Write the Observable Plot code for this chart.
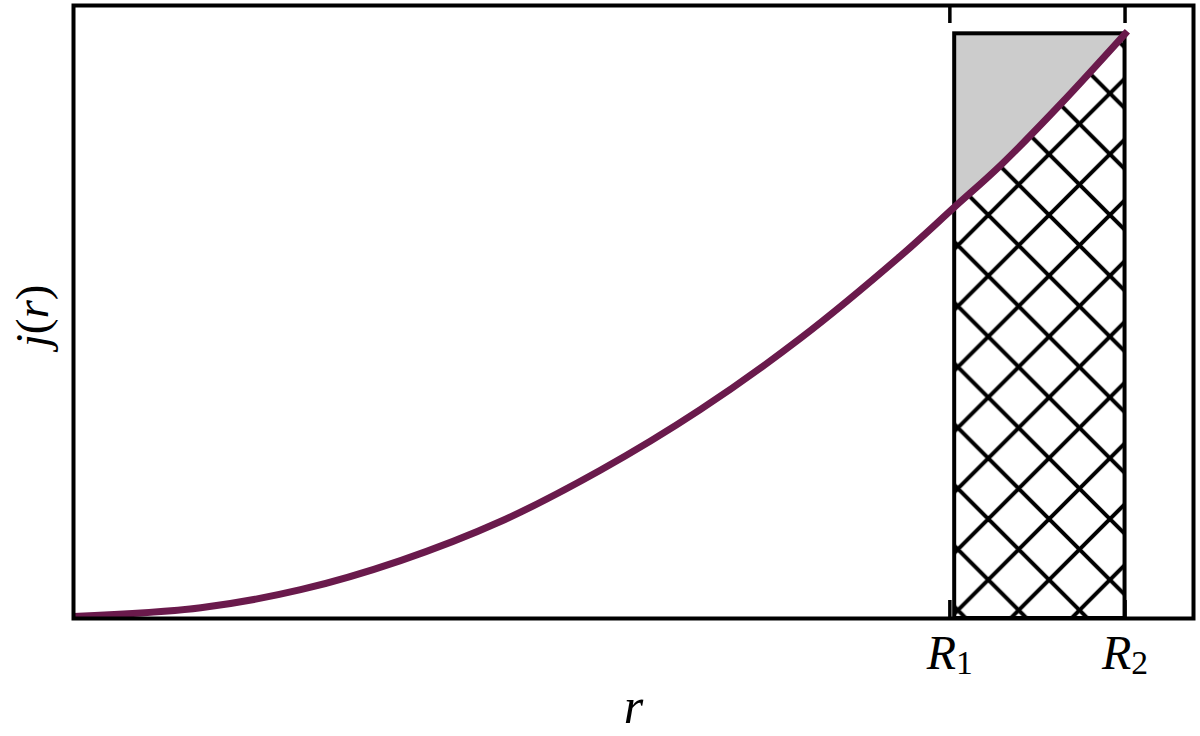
<!DOCTYPE html>
<html><head><meta charset="utf-8">
<script src="https://cdn.jsdelivr.net/npm/d3@7"></script>
<script src="https://cdn.jsdelivr.net/npm/@observablehq/plot@0.6"></script>
<style>html,body{margin:0;padding:0;background:#fff;} #chart svg{display:block;}</style>
</head><body><div id="chart"></div>
<script>
// Curve j(r) (r normalised so R2 = 1, j(R2) = 1)
const rValues = [0, 0.121, 0.216, 0.311, 0.406, 0.501, 0.596, 0.691, 0.786, 0.838, 0.882, 0.939, 1.0];
const jValues = [0, 0.015, 0.046, 0.096, 0.163, 0.251, 0.355, 0.477, 0.618, 0.703, 0.775, 0.880, 1.0];
// Ticks
const tickValues = [0.8334, 1.0];
const tickLabels = ["R1", "R2"];
// Shell rectangle
const shellInner = 0.838;
const shellOuter = 1.0;
const shellTop = 1.0;
// Domains
const xDomain = [0, 1.0651];
const yDomain = [-0.0034, 1.0486];
const xLabel = "r";
const yLabel = "j(r)";

const curve = rValues.map((r, i) => ({r, j: jValues[i]}));
const shellCurve = curve.filter(d => d.r >= shellInner - 1e-9);
const lineColor = "#6a1a4c";
const serif = "'Liberation Serif', 'DejaVu Serif', serif";

const W = 1200, H = 736;
const mT = 5, mB = 118, mL = 73, mR = 7;
const plotH = H - mT - mB;
const tickLen = 18;

const chart = Plot.plot({
  width: W, height: H,
  marginTop: mT, marginBottom: mB, marginLeft: mL, marginRight: mR,
  x: {domain: xDomain, axis: null},
  y: {domain: yDomain, axis: null},
  style: {background: "white", overflow: "visible"},
  marks: [
    // hatched shell
    Plot.rect([{x1: shellInner, x2: shellOuter, y1: yDomain[0], y2: shellTop}],
      {x1: "x1", x2: "x2", y1: "y1", y2: "y2", fill: "url(#hatch)"}),
    // gray area above the curve in the shell
    Plot.areaY(shellCurve, {x: "r", y1: "j", y2: shellTop, fill: "#cccccc", curve: "catmull-rom"}),
    // shell outline
    Plot.rect([{x1: shellInner, x2: shellOuter, y1: yDomain[0], y2: shellTop}],
      {x1: "x1", x2: "x2", y1: "y1", y2: "y2", fill: "none", stroke: "black", strokeWidth: 4}),
    // inward ticks, bottom and top
    Plot.ruleX(tickValues, {x: d => d, insetTop: plotH - tickLen, stroke: "black", strokeWidth: 3.5}),
    Plot.ruleX(tickValues, {x: d => d, insetBottom: plotH - tickLen, stroke: "black", strokeWidth: 3.5}),
    // curve
    Plot.line(curve, {x: "r", y: "j", stroke: lineColor, strokeWidth: 7, curve: "catmull-rom", strokeLinecap: "square", clip: true}),
    Plot.frame({stroke: "black", strokeWidth: 4}),
    // tick labels
    Plot.text(tickValues, {x: d => d, text: (d, i) => tickLabels[i], frameAnchor: "bottom", dy: 50,
      lineAnchor: "bottom", textAnchor: "middle", fontSize: 48, fontFamily: serif, fill: "black"}),
    // axis labels
    Plot.text([xLabel], {text: d => d, frameAnchor: "bottom", dy: 104, lineAnchor: "bottom", textAnchor: "middle",
      fontSize: 50, fontFamily: serif, fill: "black"}),
    Plot.text([yLabel], {text: d => d, frameAnchor: "left", dx: -26, dy: 4, rotate: -90, lineAnchor: "bottom",
      textAnchor: "middle", fontSize: 47, fontFamily: serif, fill: "black"})
  ]
});

const svg = d3.select(chart);
const defs = svg.insert("defs", ":first-child");
const P = 60.8;
const pat = defs.append("pattern").attr("id", "hatch").attr("patternUnits", "userSpaceOnUse")
  .attr("x", 988.3).attr("y", 215).attr("width", P).attr("height", P);
pat.append("path")
  .attr("d", `M${-P/2},${-P/2}L${1.5*P},${1.5*P}M${-P/2},${1.5*P}L${1.5*P},${-P/2}`)
  .attr("stroke", "black").attr("stroke-width", 4).attr("fill", "none");

// Rich text: italic symbols, upright parentheses and subscripts
svg.selectAll("text").each(function() {
  const t = d3.select(this);
  const s = this.textContent;
  if (/^R\d$/.test(s)) {
    t.text("");
    t.append("tspan").attr("font-style", "italic").text("R");
    t.append("tspan").attr("font-size", "0.7em").attr("dy", "0.15em").text(s.slice(1));
  } else if (s === yLabel) {
    t.text("");
    t.append("tspan").attr("font-style", "italic").text("j");
    t.append("tspan").text("(");
    t.append("tspan").attr("font-style", "italic").text("r");
    t.append("tspan").text(")");
  } else if (s === xLabel) {
    t.attr("font-style", "italic");
  }
});

document.getElementById("chart").appendChild(chart);
</script>
</body></html>
